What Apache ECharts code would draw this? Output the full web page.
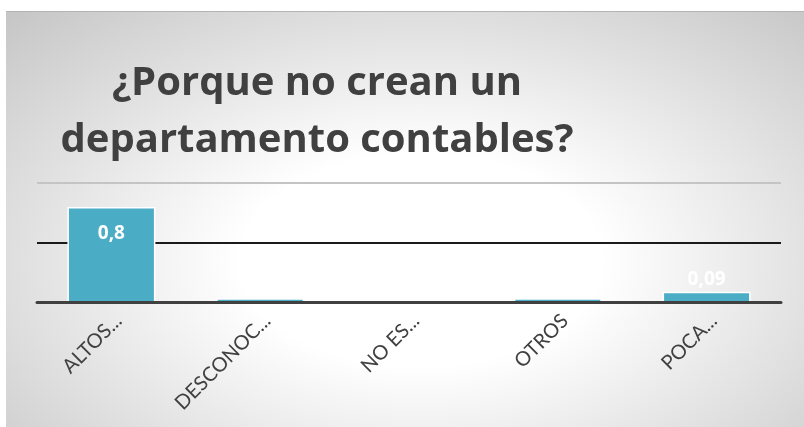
<!DOCTYPE html>
<html><head><meta charset="utf-8">
<script src="https://cdn.jsdelivr.net/npm/echarts@6/dist/echarts.min.js"></script>
<style>html,body{margin:0;padding:0;background:#fff}#c{width:804px;height:427px}</style>
</head><body><div id="c"></div>
<script>
const titleText = '¿Porque no crean un\ndepartamento contables?';
const categories = ['ALTOS...', 'DESCONOC...', 'NO ES...', 'OTROS', 'POCA...'];
const values = [0.8, 0.035, 0, 0.035, 0.09];
const yTicks = [0, 0.5, 1];

const sx = 1.7;
const chart = echarts.init(document.getElementById('c'));
chart.setOption({
  animation: false,
  graphic: [{
    type: 'rect', x: 6, y: 11, scaleX: sx, z: -10, silent: true,
    shape: { width: 798 / sx, height: 416 },
    style: {
      fill: { type: 'radial', x: 0.52, y: 0.6, r: 0.85,
        colorStops: [{ offset: 0, color: '#ffffff' }, { offset: 0.3, color: '#ffffff' }, { offset: 1, color: '#c4c4c4' }] }
    }
  }, {
    type: 'line', silent: true, z: -9,
    shape: { x1: 6, y1: 11.5, x2: 804, y2: 11.5 },
    style: { stroke: '#b4b4b4', lineWidth: 1 }
  }],
  title: {
    text: titleText, left: 312, top: 50, textAlign: 'center',
    textStyle: { fontFamily: 'Open Sans', fontWeight: 'bold', fontSize: 40, color: '#404040', lineHeight: 57 }
  },
  grid: { left: 37, right: 23, top: 183, bottom: 124.5 },
  xAxis: {
    type: 'category', data: categories, z: 3,
    axisLine: { lineStyle: { color: '#404040', width: 3 } },
    axisTick: { show: false },
    axisLabel: { rotate: 45, interval: 0, margin: 8, verticalAlign: 'top', fontFamily: 'Lato', fontSize: 20, color: '#404040' }
  },
  yAxis: {
    type: 'value', min: yTicks[0], max: yTicks[yTicks.length - 1], interval: yTicks[1] - yTicks[0],
    axisLabel: { show: false }, axisLine: { show: false }, axisTick: { show: false },
    splitLine: { lineStyle: { color: ['#404040', '#1a1a1a', '#c4c4c4'], width: 2 } }
  },
  series: [{
    type: 'bar', barWidth: 88,
    data: values.map((v, i) => i === 0 ? { value: v, label: { position: 'insideTop', distance: 17 } } : v),
    itemStyle: { color: '#4bacc6', borderColor: '#ffffff', borderWidth: 1.5 },
    label: {
      show: true, position: 'top', distance: 3, color: '#ffffff', fontFamily: 'Open Sans', fontWeight: 'bold', fontSize: 19,
      formatter: p => p.value >= 0.05 ? String(p.value).replace('.', ',') : ''
    }
  }]
});
</script></body></html>
